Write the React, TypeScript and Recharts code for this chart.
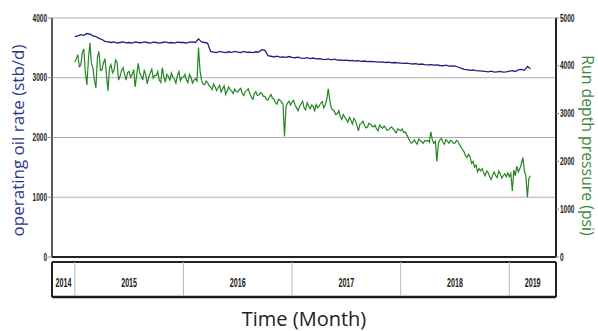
import { LineChart, Line, XAxis, YAxis, CartesianGrid, Label } from 'recharts'

const startYear = 2015
const oilSamplesPerYear = 36 // about every 10 days
const pressureSamplesPerYear = 72 // about every 5 days

// operating oil rate (stb/d), from Jan 2015
const oilRate = [
  3690, 3700, 3720, 3710, 3740, 3730, 3700, 3690, 3660,
  3640, 3610, 3600, 3590, 3600, 3580, 3590, 3600, 3585,
  3590, 3580, 3600, 3590, 3585, 3600, 3590, 3580, 3595,
  3590, 3580, 3590, 3600, 3585, 3590, 3580, 3595, 3590,
  3590, 3580, 3595, 3600, 3590, 3650, 3600, 3590, 3580,
  3440, 3430, 3420, 3440, 3430, 3420, 3435, 3425, 3440,
  3430, 3420, 3440, 3425, 3430, 3420, 3435, 3430, 3470,
  3460, 3370, 3360, 3350, 3360, 3345, 3350, 3340, 3355,
  3340, 3335, 3345, 3330, 3325, 3335, 3320, 3330, 3315,
  3320, 3310, 3305, 3315, 3300, 3310, 3295, 3300, 3290,
  3295, 3285, 3290, 3280, 3285, 3275, 3280, 3270, 3275,
  3270, 3265, 3260, 3265, 3255, 3260, 3250, 3255, 3250,
  3245, 3240, 3245, 3235, 3230, 3235, 3225, 3230, 3220,
  3215, 3220, 3210, 3215, 3205, 3200, 3210, 3195, 3200,
  3195, 3180, 3160, 3140, 3135, 3125, 3130, 3120, 3115,
  3110, 3105, 3100, 3110, 3095, 3100, 3105, 3095, 3100,
  3110, 3120, 3105, 3130, 3140, 3125, 3190, 3150,
]

// run depth pressure (psi), from Jan 2015, one row per quarter
const runDepthPressure = [
  4080, 4150, 4230, 3980, 4010, 4280, 4350, 3850, 3600, 4120, 4480, 4050, 3950, 3700, 3540, 4180, 4300, 3900,
  3920, 4060, 4150, 3800, 3480, 3950, 4020, 3850, 3900, 4120, 4080, 3700, 3780, 3900, 3960, 3820, 3700, 3860,
  3880, 3760, 3820, 3920, 3560, 3800, 4050, 3850, 3790, 3700, 3900, 3820, 3620, 3760, 3850, 3930, 3740, 3800,
  3800, 3880, 3700, 3650, 3960, 3780, 3660, 3820, 3780, 3700, 3850, 3760, 3720, 3640, 3800, 3880, 3690, 3760,
  3760, 3820, 3700, 3650, 3820, 3760, 3640, 3700, 3730, 3680, 4380, 3900, 3700, 3620, 3600, 3680, 3650, 3580,
  3560, 3500, 3620, 3560, 3480, 3540, 3590, 3450, 3520, 3580, 3400, 3480, 3560, 3500, 3470, 3420, 3510, 3460,
  3450, 3500, 3530, 3420, 3380, 3460, 3480, 3520, 3420, 3350, 3300, 3420, 3460, 3380, 3390, 3440, 3420, 3360,
  3360, 3300, 3280, 3350, 3400, 3320, 3300, 3230, 3200, 3300, 3280, 3240, 3200, 2520, 3150, 3220, 3260, 3180,
  3240, 3280, 3180, 3120, 3060, 3150, 3200, 3260, 3120, 3080, 3230, 3160, 3100, 3180, 3150, 3060, 3190, 3120,
  3160, 3220, 3250, 3120, 3180, 3300, 3520, 3280, 3120, 3080, 3050, 2980, 3000, 3060, 2940, 2880, 2980, 2920,
  2880, 2820, 2920, 2860, 2780, 2900, 2850, 2760, 2640, 2780, 2800, 2840, 2760, 2700, 2720, 2800, 2780, 2740,
  2720, 2760, 2680, 2640, 2760, 2720, 2690, 2740, 2700, 2650, 2660, 2700, 2720, 2680, 2640, 2600, 2680, 2660,
  2640, 2680, 2600, 2620, 2560, 2500, 2430, 2380, 2400, 2450, 2400, 2360, 2470, 2430, 2410, 2380, 2440, 2420,
  2440, 2400, 2620, 2450, 2380, 2420, 2000, 2380, 2450, 2480, 2400, 2360, 2460, 2420, 2380, 2440, 2420, 2380,
  2380, 2440, 2420, 2350, 2300, 2250, 2200, 2120, 2080, 2150, 2100, 1960, 2000, 1880, 1920, 1780, 1850, 1800,
  1850, 1760, 1700, 1800, 1760, 1680, 1620, 1720, 1780, 1700, 1660, 1800, 1740, 1650, 1700, 1740, 1680, 1760,
  1680, 1750, 1380, 1820, 1700, 1900, 1780, 1850, 1950, 2080, 1800, 1700, 1250, 1650, 1700,
]

const xDomain = [2014.79, 2019.43]
const yearBoundaries = [2015, 2016, 2017, 2018, 2019]
const yearLabels = ['2014', '2015', '2016', '2017', '2018', '2019']
const oilTicks = [0, 1000, 2000, 3000, 4000]
const pressureTicks = [0, 1000, 2000, 3000, 4000, 5000]

const oilData = oilRate.map((oil, i) => ({ t: startYear + i / oilSamplesPerYear, oil }))
const pressureData = runDepthPressure.map((pressure, i) => ({ t: startYear + i / pressureSamplesPerYear, pressure }))

const bandEdges = [xDomain[0], ...yearBoundaries, xDomain[1]]
const bandCenters = yearLabels.map((_, i) => (bandEdges[i] + bandEdges[i + 1]) / 2)
const bandTicks = [...bandEdges, ...bandCenters].sort((a, b) => a - b)

const narrowFont = "'Liberation Sans Narrow', 'Arial Narrow', 'Liberation Sans', sans-serif"
const titleFont = "'Open Sans', 'Noto Sans', sans-serif"

const LeftTick = ({ x, y, payload }: any) => (
  <text
    transform={`translate(${x},${y}) scale(0.65,1)`}
    textAnchor="end"
    dominantBaseline="central"
    fontFamily={narrowFont}
    fontWeight={700}
    fontSize={10}
    fill="#222"
  >
    {payload.value}
  </text>
)

const RightTick = ({ x, y, payload }: any) => (
  <text
    transform={`translate(${x},${y}) scale(0.65,1)`}
    textAnchor="start"
    dominantBaseline="central"
    fontFamily={narrowFont}
    fontWeight={700}
    fontSize={10}
    fill="#222"
  >
    {payload.value}
  </text>
)

// year band under the plot: dark edges, grey separators, labels in the middle
const BandTick = ({ x, y, payload }: any) => {
  const v = payload.value
  if (v === xDomain[0] || v === xDomain[1]) {
    return <line x1={x} x2={x} y1={y} y2={y + 35} stroke="#222" strokeWidth={2} />
  }
  if (yearBoundaries.includes(v)) {
    return <line x1={x} x2={x} y1={y} y2={y + 34} stroke="#b8b8b8" strokeWidth={1} />
  }
  const idx = bandCenters.indexOf(v)
  return (
    <text
      transform={`translate(${x},${y + 25}) scale(0.55,1)`}
      textAnchor="middle"
      fontFamily={narrowFont}
      fontWeight={700}
      fontSize={13}
      fill="#222"
    >
      {yearLabels[idx]}
    </text>
  )
}

const leftTitle = ({ viewBox }: any) => {
  const cx = viewBox.x + 17
  const cy = viewBox.y + viewBox.height / 2 + 3
  return (
    <text
      x={cx}
      y={cy}
      transform={`rotate(-90,${cx},${cy})`}
      textAnchor="middle"
      dominantBaseline="central"
      fontFamily={titleFont}
      fontSize={17}
      fill="#33358a"
    >
      operating oil rate (stb/d)
    </text>
  )
}

const rightTitle = ({ viewBox }: any) => {
  const cx = viewBox.x + 32
  const cy = viewBox.y + viewBox.height / 2 + 8
  return (
    <text
      x={cx}
      y={cy}
      transform={`rotate(90,${cx},${cy})`}
      textAnchor="middle"
      dominantBaseline="central"
      fontFamily={titleFont}
      fontSize={15.8}
      fill="#3c8a3c"
    >
      Run depth pressure (psi)
    </text>
  )
}

const timeTitle = ({ viewBox }: any) => (
  <text
    x={viewBox.x + viewBox.width / 2}
    y={viewBox.y + 29}
    textAnchor="middle"
    fontFamily={titleFont}
    fontSize={20}
    fill="#222"
  >
    Time (Month)
  </text>
)

// bottom x axes are stacked in id order: x1 (plot edge), x2 (year band), x3 (frame + title)
export default function App() {
  return (
    <div style={{ position: 'absolute', left: 0, top: 0, width: 598, height: 331, background: '#fff' }}>
      <LineChart width={598} height={331} margin={{ top: 18, right: 0, bottom: 0, left: 0 }}>
        <CartesianGrid xAxisId="x1" yAxisId="left" stroke="#b0b0b0" strokeWidth={1.2} />
        <XAxis
          xAxisId="x1"
          dataKey="t"
          type="number"
          domain={xDomain}
          allowDataOverflow
          ticks={yearBoundaries}
          interval={0}
          tick={false}
          tickLine={false}
          height={5}
          axisLine={{ stroke: '#222', strokeWidth: 2 }}
        />
        <XAxis
          xAxisId="x2"
          dataKey="t"
          type="number"
          domain={xDomain}
          allowDataOverflow
          ticks={bandTicks}
          interval={0}
          tick={BandTick}
          tickLine={false}
          tickSize={0}
          tickMargin={0}
          height={35}
          axisLine={{ stroke: '#222', strokeWidth: 2 }}
        />
        <XAxis
          xAxisId="x3"
          dataKey="t"
          type="number"
          domain={xDomain}
          allowDataOverflow
          tick={false}
          tickLine={false}
          height={34}
          axisLine={{ stroke: '#1a1a1a', strokeWidth: 2.5 }}
        >
          <Label content={timeTitle} />
        </XAxis>
        <YAxis
          yAxisId="left"
          domain={[0, 4000]}
          ticks={oilTicks}
          interval={0}
          width={52}
          tick={LeftTick}
          tickSize={4}
          tickMargin={1}
          tickLine={{ stroke: '#888' }}
          axisLine={{ stroke: '#333', strokeWidth: 1.5 }}
        >
          <Label content={leftTitle} />
        </YAxis>
        <YAxis
          yAxisId="right"
          orientation="right"
          domain={[0, 5000]}
          ticks={pressureTicks}
          interval={0}
          width={42}
          tick={RightTick}
          tickSize={3}
          tickMargin={1}
          tickLine={{ stroke: '#888' }}
          axisLine={{ stroke: '#222', strokeWidth: 2 }}
        >
          <Label content={rightTitle} />
        </YAxis>
        <Line
          data={pressureData}
          xAxisId="x1"
          yAxisId="right"
          dataKey="pressure"
          type="linear"
          dot={false}
          stroke="#258525"
          strokeWidth={1.2}
          isAnimationActive={false}
        />
        <Line
          data={oilData}
          xAxisId="x1"
          yAxisId="left"
          dataKey="oil"
          type="linear"
          dot={false}
          stroke="#1f1f80"
          strokeWidth={1.3}
          isAnimationActive={false}
        />
      </LineChart>
    </div>
  )
}
